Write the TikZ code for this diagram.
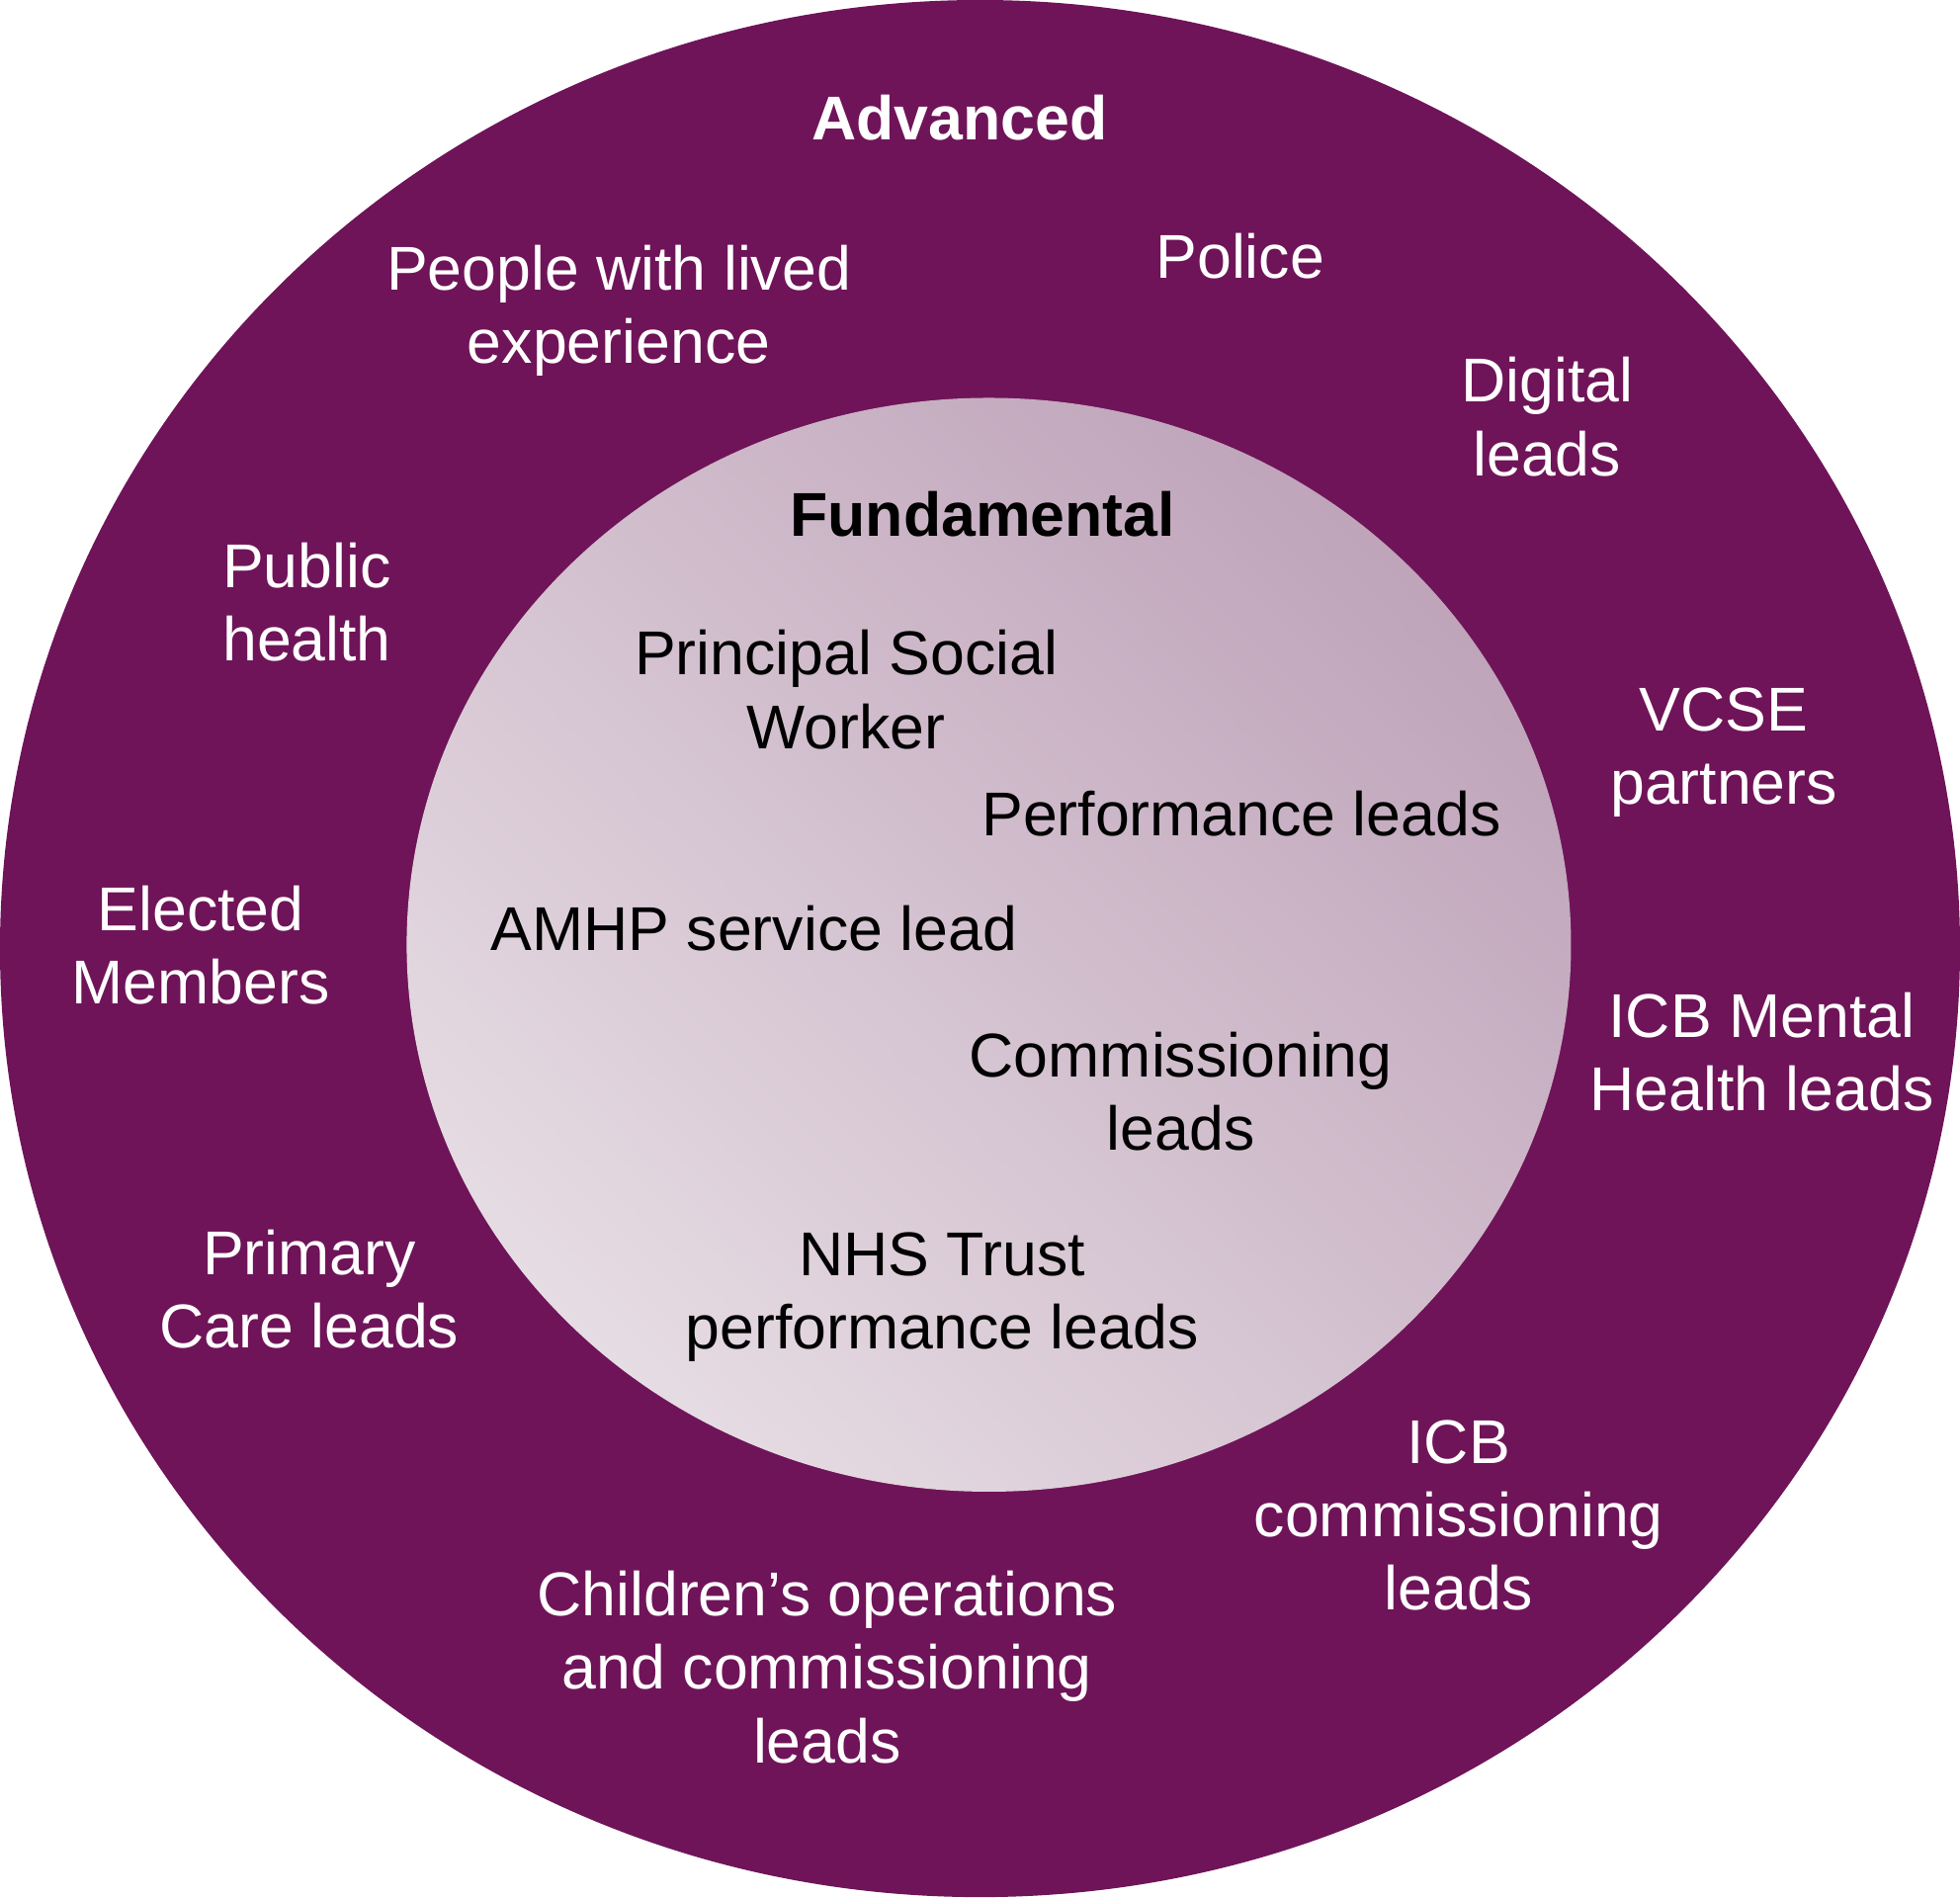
\documentclass[tikz,border=0pt]{standalone}
\usepackage{fontspec}
\setmainfont{Liberation Sans}
\definecolor{outer}{HTML}{6F1459}
\definecolor{inA}{HTML}{BFA4BA}
\definecolor{inB}{HTML}{E6DCE3}
\begin{document}
\begin{tikzpicture}[x=0.5pt,y=-0.5pt,
  lab/.style={align=center,font=\fontsize{24.5}{29}\selectfont,inner sep=0pt},
  wl/.style={lab,text=white},
  bl/.style={lab,text=black}]
\useasboundingbox (0,0) rectangle (1552,1502);
\fill[outer] (776,751) ellipse [x radius=776, y radius=751];
\shade[left color=inA,right color=inB,shading angle=315] (783,748) ellipse [x radius=461, y radius=433];
\node[wl,font=\fontsize{24.5}{29}\selectfont\bfseries] (adv) at (760,93) {Advanced};
\node[wl] (plx) at (490,246) {People with lived\\experience};
\node[wl] (pol) at (982,203) {Police};
\node[wl] (dig) at (1225,330) {Digital\\leads};
\node[wl] (pub) at (243,477) {Public\\health};
\node[wl] (vcse) at (1365,596) {VCSE\\partners};
\node[wl] (ele) at (159,748) {Elected\\Members};
\node[wl] (icbm) at (1395,833) {ICB Mental\\Health leads};
\node[wl] (prim) at (245,1021) {Primary\\Care leads};
\node[wl] (icbc) at (1155,1200) {ICB\\commissioning\\leads};
\node[wl] (chi) at (655,1320) {Children’s operations\\and commissioning\\leads};
\node[bl,font=\fontsize{24.5}{29}\selectfont\bfseries] (fun) at (778,407) {Fundamental};
\node[bl] (psw) at (670,546) {Principal Social\\Worker};
\node[bl] (perf) at (983,644) {Performance leads};
\node[bl] (amhp) at (597,735) {AMHP service lead};
\node[bl] (com) at (935,864) {Commissioning\\leads};
\node[bl] (nhs) at (746,1027) {NHS Trust\\performance leads};
\end{tikzpicture}
\end{document}
